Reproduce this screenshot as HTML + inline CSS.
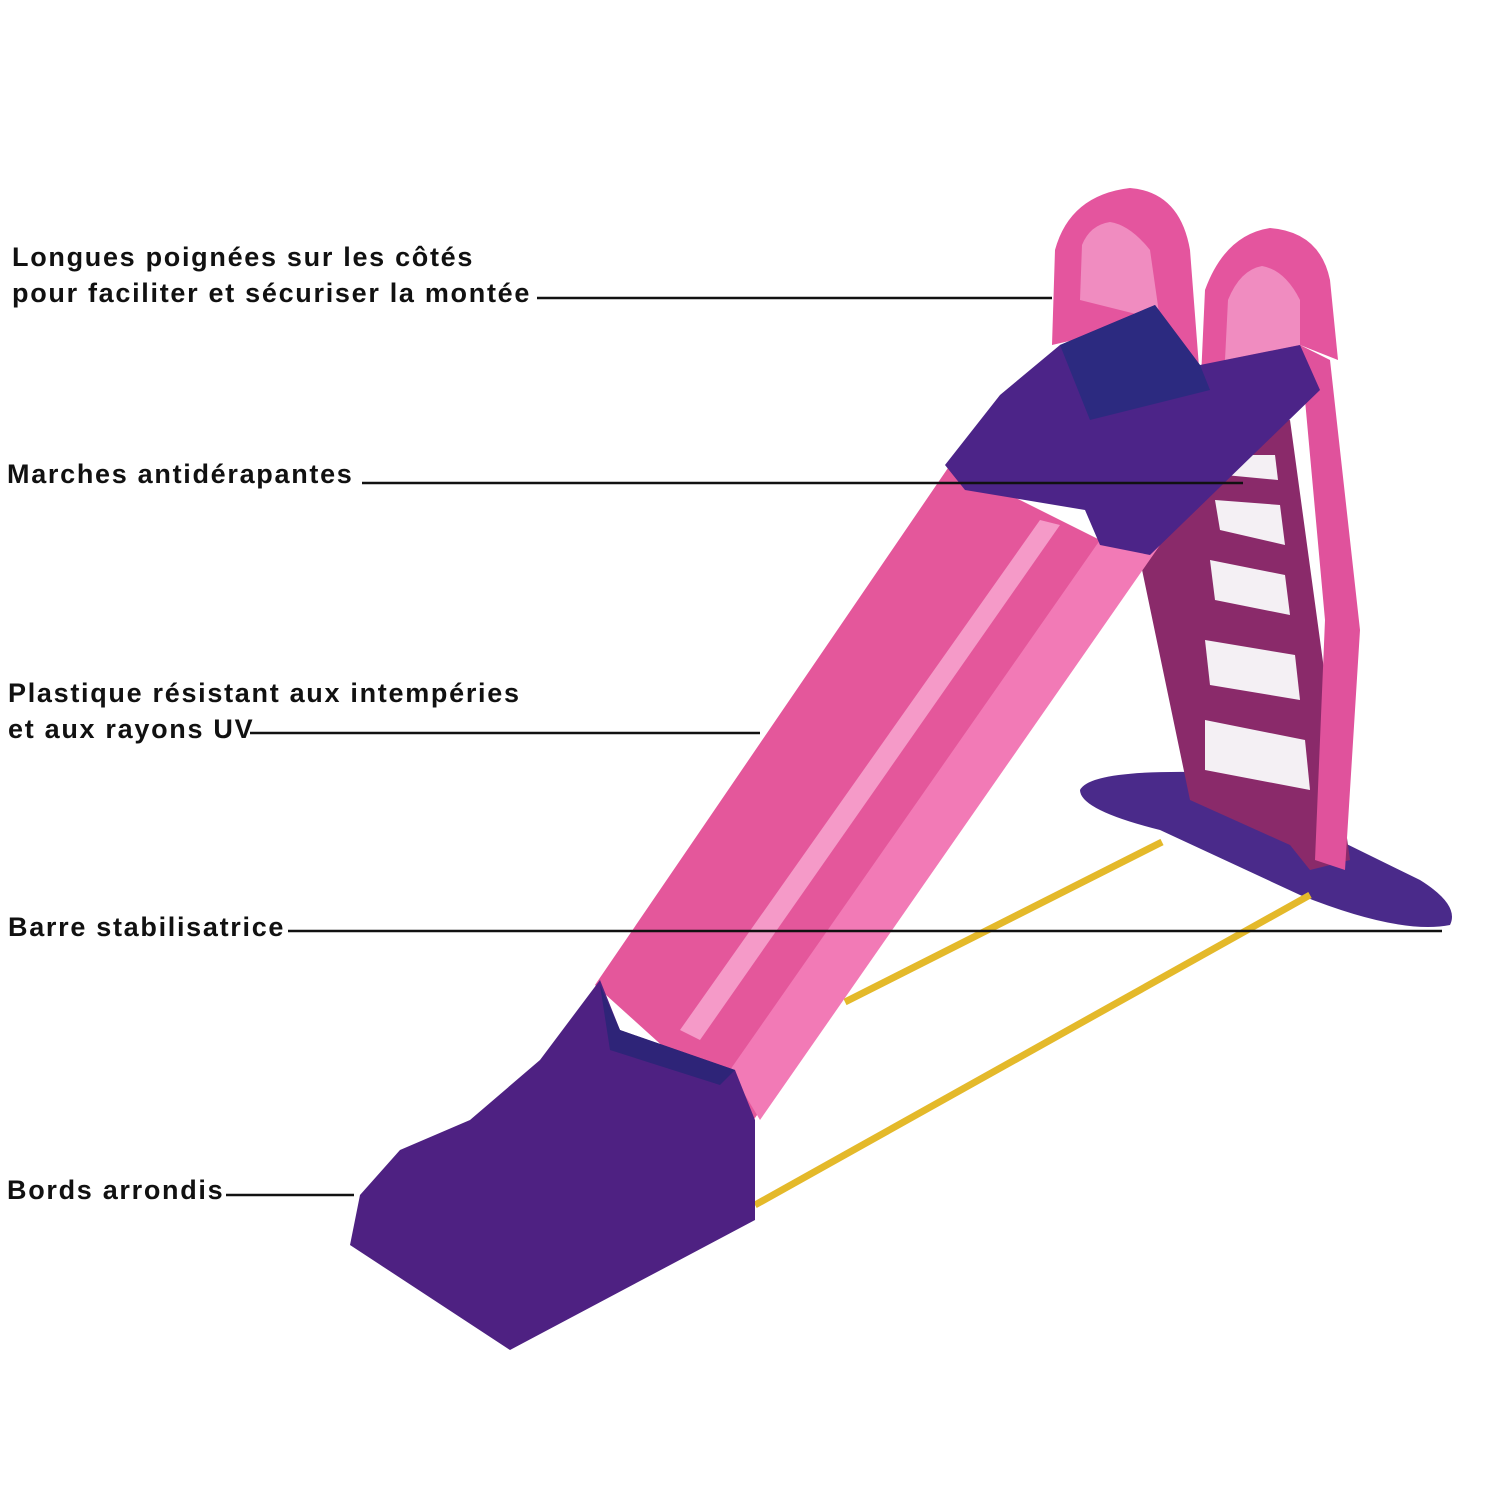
<!DOCTYPE html>
<html><head><meta charset="utf-8"><style>
html,body{margin:0;padding:0;background:#fff}
.w{position:relative;width:1500px;height:1500px;overflow:hidden}
.t{position:absolute;font-family:"Liberation Sans",sans-serif;font-weight:bold;font-size:27px;letter-spacing:1.7px;color:#111;line-height:36px;white-space:nowrap}
svg{position:absolute;left:0;top:0}
</style></head><body><div class="w">
<svg width="1500" height="1500" viewBox="0 0 1500 1500">
<path d="M1080 790 Q1090 770 1200 772 L1420 880 Q1460 905 1450 925 Q1400 935 1300 895 L1160 830 Q1080 810 1080 790Z" fill="#4a2a8a"/>
<line x1="845" y1="1002" x2="1162" y2="842" stroke="#e4b92a" stroke-width="7"/>
<line x1="755" y1="1205" x2="1310" y2="895" stroke="#e4b92a" stroke-width="7"/>
<path d="M1140 560 L1200 430 L1290 420 L1350 860 L1310 870 L1290 845 L1190 800 Z" fill="#8a2a6a"/>
<g fill="#f4f0f4">
<path d="M1215 500 L1280 505 L1285 545 L1220 530Z"/>
<path d="M1210 560 L1285 575 L1290 615 L1215 600Z"/>
<path d="M1205 640 L1295 655 L1300 700 L1210 685Z"/>
<path d="M1205 720 L1305 740 L1310 790 L1205 770Z"/>
<path d="M1220 455 L1275 455 L1278 480 L1225 475Z"/>
</g>
<path d="M1300 345 L1330 360 L1360 630 L1345 870 L1315 860 L1325 620 Z" fill="#e0529c"/>
<!-- handle plates -->
<path d="M1052 345 L1055 250 Q1070 195 1130 188 Q1180 192 1190 250 L1200 380 L1160 320 Z" fill="#e4559e"/>
<path d="M1080 300 L1082 245 Q1090 225 1110 222 Q1130 225 1150 250 L1160 320 Z" fill="#f08cc0"/>
<path d="M1200 400 L1205 290 Q1225 235 1270 228 Q1320 232 1330 280 L1338 360 L1300 345 Z" fill="#e4559e"/>
<path d="M1225 360 L1228 300 Q1240 270 1262 266 Q1285 270 1300 300 L1300 345 Z" fill="#f08cc0"/>
<path d="M950 465 L1100 540 L1160 545 L750 1125 L595 985 Z" fill="#e4579b"/>
<path d="M1100 540 L1160 545 L760 1120 L730 1070 Z" fill="#f27ab6"/>
<path d="M1040 520 L1060 525 L700 1040 L680 1030 Z" fill="#f59ac8"/>
<path d="M945 465 L1000 395 L1060 345 L1155 305 L1200 365 L1300 345 L1320 390 L1150 555 L1100 545 L1085 510 L965 490 Z" fill="#4c2488"/>
<path d="M1060 345 L1155 305 L1200 365 L1210 390 L1090 420 Z" fill="#2c2a80"/>
<path d="M350 1245 L360 1195 L400 1150 L470 1120 L540 1060 L600 980 L620 1030 L735 1070 L755 1120 L755 1220 L510 1350 Z" fill="#4e2182"/>
<path d="M600 985 L620 1030 L735 1070 L720 1085 L610 1050 Z" fill="#2e2478"/>
<g stroke="#111" stroke-width="2.5">
<line x1="537" y1="298" x2="1052" y2="298"/>
<line x1="362" y1="483" x2="1243" y2="483"/>
<line x1="250" y1="733" x2="760" y2="733"/>
<line x1="288" y1="931" x2="1442" y2="931"/>
<line x1="226" y1="1195" x2="354" y2="1195"/>
</g>
</svg>
<div class="t" style="left:12px;top:239px">Longues poignées sur les côtés<br>pour faciliter et sécuriser la montée</div>
<div class="t" style="left:7px;top:456px">Marches antidérapantes</div>
<div class="t" style="left:8px;top:675px">Plastique résistant aux intempéries<br>et aux rayons UV</div>
<div class="t" style="left:8px;top:909px">Barre stabilisatrice</div>
<div class="t" style="left:7px;top:1172px">Bords arrondis</div>
</div></body></html>
